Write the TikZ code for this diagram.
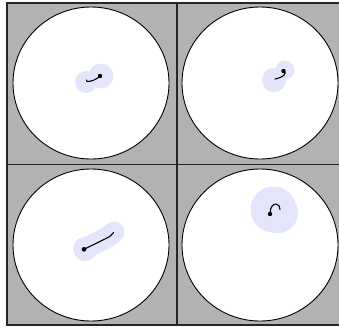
\documentclass[tikz,border=0pt]{standalone}
\begin{document}
\begin{tikzpicture}[x=1pt,y=-1pt,
  cellfill/.style={fill=black!30},
  frameline/.style={draw=black!85,line width=1.3pt},
  disc/.style={draw=black,line width=0.9pt,fill=white},
  blob/.style={fill=lavender,draw=none},
  sausage/.style={draw=lavender,line cap=round,line join=round},
  trail/.style={draw=black,line width=1.1pt,line cap=round},
  spot/.style={fill=black,draw=none}]
\definecolor{lavender}{RGB}{228,228,250}
\useasboundingbox (0,0) rectangle (339,327);
% background cells
\fill[cellfill] (7,3) rectangle (348,325);
% discs
\draw[disc] (91,83) ellipse [x radius=78,y radius=76];
\draw[disc] (260,83) ellipse [x radius=78,y radius=76];
\draw[disc] (91,245) ellipse [x radius=78,y radius=76];
\draw[disc] (260,245) ellipse [x radius=78,y radius=76];
% frame
\draw[frameline] (7,3) rectangle (348,325);
\draw[frameline] (177,3) -- (177,325);
\draw[frameline] (7,164.5) -- (348,164.5);
% cell 1
\fill[blob] (101,76) circle [radius=12.5];
\fill[blob] (86,82) circle [radius=11];
\coordinate (a1) at (100,76);
\coordinate (b1) at (86.5,80);
\draw[trail] (a1) .. controls (96,80) and (91,81.5) .. (87,81.5) -- (b1);
\fill[spot] (a1) circle [radius=2.2];
% cell 2
\fill[blob] (285,70) circle [radius=9.5];
\fill[blob] (274,80) circle [radius=12];
\coordinate (a2) at (283.5,71);
\coordinate (b2) at (275,79);
\draw[trail] (a2) .. controls (288,73) and (283,77.5) .. (b2);
\fill[spot] (a2) circle [radius=2.2];
% cell 3
\fill[blob] (85,249) circle [radius=12];
\draw[sausage,line width=21pt] (86,248) -- (108,237) -- (114,232);
\coordinate (a3) at (84,249.3);
\coordinate (b3) at (113.5,232.5);
\draw[trail] (a3) -- (106,238.5) .. controls (110,236.5) and (112,235) .. (b3);
\fill[spot] (a3) circle [radius=2.3];
% cell 4
\fill[blob] (273.5,209.5) circle [radius=23];
\fill[blob] (278,213) circle [radius=20];
\coordinate (a4) at (270,214);
\coordinate (b4) at (280,209.5);
\draw[trail] (a4) .. controls (270,207) and (273,204) .. (276,204) .. controls (279,204) and (280,207) .. (b4);
\fill[spot] (a4) circle [radius=2.2];
\end{tikzpicture}
\end{document}
